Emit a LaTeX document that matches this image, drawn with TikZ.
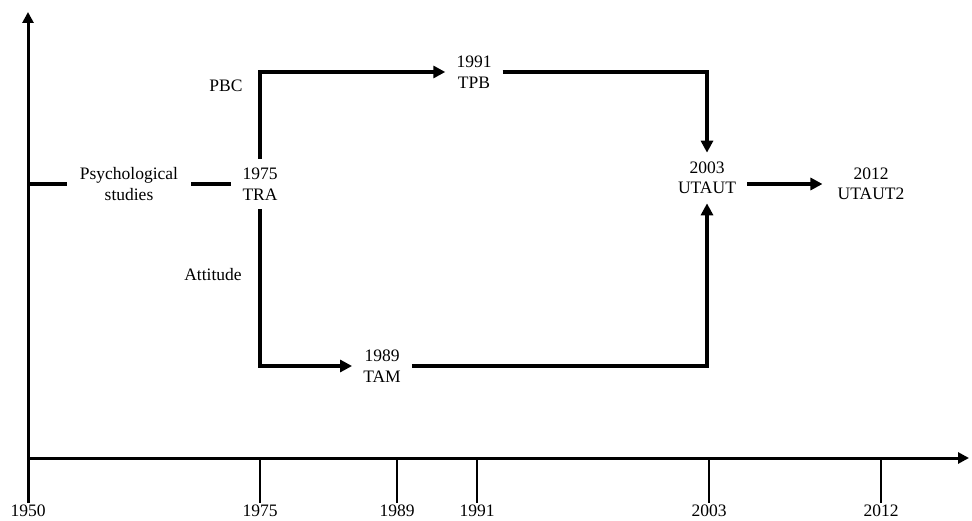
\documentclass[tikz,border=0pt]{standalone}
\usepackage{fontspec}
\setmainfont{Liberation Serif}
\usetikzlibrary{arrows.meta}
\begin{document}
\begin{tikzpicture}[x=1pt,y=-1pt,
  txt/.style={font=\fontsize{17.5}{20.5}\selectfont,align=center,inner sep=0pt},
  box/.style={txt,inner xsep=11pt,inner ysep=9pt},
  conn/.style={line width=3.2pt},
  arr/.style={conn,-{Triangle[length=12pt,width=12pt]}},
  axarr/.style={line width=3pt,-{Triangle[length=11pt,width=11pt]}},
  tick/.style={line width=2pt},
  yr/.style={txt,anchor=north,inner sep=2pt}]
\useasboundingbox (0,0) rectangle (972,521);
% axes
\coordinate (o) at (28,458);
\coordinate (ytop) at (28,12);
\coordinate (xend) at (969,458);
\node[yr] (y1950) at (28,503) {1950};
\node[yr] (y1975) at (260,503) {1975};
\node[yr] (y1989) at (397,503) {1989};
\node[yr] (y1991) at (477,503) {1991};
\node[yr] (y2003) at (709,503) {2003};
\node[yr] (y2012) at (881,503) {2012};
\draw[axarr] (y1950.north) -- (ytop);
\draw[axarr] (o) -- (xend);
\foreach \n in {1975,1989,1991,2003,2012}
  \draw[tick] (y\n.north |- o) -- (y\n.north);
% nodes
\node[box,inner xsep=13pt] (psy) at (129,184) {Psychological\\studies};
\node[box] (tra) at (260,184) {1975\\TRA};
\node[box] (tpb) at (474,72) {1991\\TPB};
\node[box] (tam) at (382,366) {1989\\TAM};
\node[box] (utaut) at (707,178) {2003\\UTAUT};
\node[box,inner xsep=15pt] (utaut2) at (871,184) {2012\\UTAUT2};
\node[txt] (pbc) at (226,86) {PBC};
\node[txt] (att) at (213,275) {Attitude};
\coordinate (yax) at (28,184);
% connectors
\draw[conn] (yax) -- (psy.west);
\draw[conn] (psy.east) -- (tra.west);
\draw[arr] (tra.north) |- (tpb.west);
\draw[arr] (tpb.east) -| (utaut.north);
\draw[arr] (tra.south) |- (tam.west);
\draw[arr] (tam.east) -| (utaut.south);
\draw[arr] (utaut.east |- utaut2.west) -- (utaut2.west);
\end{tikzpicture}
\end{document}
